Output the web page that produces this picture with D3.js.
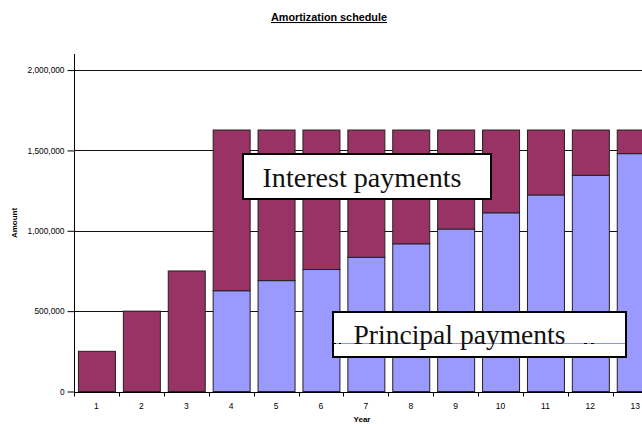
<!DOCTYPE html>
<html><head><meta charset="utf-8">
<script src="https://cdnjs.cloudflare.com/ajax/libs/d3/7.8.5/d3.min.js"></script>
<style>
html,body{margin:0;padding:0;background:#fff;overflow:hidden}
svg{display:block}
</style></head>
<body>
<script>
const years = [1,2,3,4,5,6,7,8,9,10,11,12,13];
const principal = [0,0,0,627000,690000,759000,835000,919000,1011000,1112000,1223000,1345000,1480000];
const interest = [250000,500000,750000,1000000,937000,868000,792000,708000,616000,515000,404000,282000,147000];
const yTicks = [0,500000,1000000,1500000,2000000];
const title = "Amortization schedule";
const xTitle = "Year";
const yTitle = "Amount";
const labelInterest = "Interest payments";
const labelPrincipal = "Principal payments";

const W = 642, H = 424;
const svg = d3.select("body").append("svg").attr("width", W).attr("height", H);

const x0 = 74, bandW = 44.9;
const x = d3.scaleBand().domain(years).range([x0, x0 + bandW * years.length])
  .paddingInner(0.176).paddingOuter(0.088);
const y = d3.scaleLinear().domain([0, 2100000]).range([391.5, 54]);

const sans = "'Liberation Sans', Arial, sans-serif";
const serif = "'Liberation Serif', 'Times New Roman', serif";

// gridlines
svg.append("g").selectAll("line").data(yTicks.filter(d => d > 0)).join("line")
  .attr("x1", x0).attr("x2", W)
  .attr("y1", d => Math.round(y(d)) + 0.5).attr("y2", d => Math.round(y(d)) + 0.5)
  .attr("stroke", "#111").attr("stroke-width", 1);

// stacked bars
const rows = years.map((yr, i) => ({year: yr, principal: principal[i], interest: interest[i]}));
const stack = d3.stack().keys(["principal", "interest"])(rows);
const colors = {principal: "#9999ff", interest: "#993366"};
stack.forEach(layer => {
  svg.append("g").selectAll("rect").data(layer.filter(d => d[1] - d[0] > 0)).join("rect")
    .attr("x", d => x(d.data.year) + 0.5)
    .attr("y", d => y(d[1]))
    .attr("width", x.bandwidth())
    .attr("height", d => y(d[0]) - y(d[1]))
    .attr("fill", colors[layer.key])
    .attr("stroke", "#222").attr("stroke-width", 1);
});

// y axis
const yAxis = svg.append("g").attr("transform", `translate(${x0 + 0.5},0)`)
  .call(d3.axisLeft(y).tickValues(yTicks).tickSize(7).tickSizeOuter(0)
    .tickFormat(d3.format(",")));
yAxis.select(".domain").remove();
yAxis.append("line").attr("x1", 0).attr("x2", 0).attr("y1", 54).attr("y2", 392).attr("stroke", "#000");
yAxis.selectAll(".tick line").attr("stroke", "#000");
yAxis.selectAll(".tick text").attr("font-family", sans).attr("font-size", 8.3).attr("fill", "#000").attr("x", -10);

// x axis
const xAxis = svg.append("g").attr("transform", `translate(0,${Math.round(y(0)) + 0.5})`);
xAxis.append("line").attr("x1", x0).attr("x2", W).attr("stroke", "#000");
const bounds = d3.range(years.length + 1).map(i => x0 + i * bandW);
xAxis.selectAll("line.t").data(bounds).join("line").attr("class", "t")
  .attr("x1", d => Math.round(d) + 0.5).attr("x2", d => Math.round(d) + 0.5)
  .attr("y1", 0).attr("y2", 4).attr("stroke", "#000");
xAxis.selectAll("text").data(years).join("text")
  .attr("x", d => x(d) + x.bandwidth() / 2).attr("y", 16)
  .attr("text-anchor", "middle").attr("font-family", sans).attr("font-size", 8.5).text(d => d);

// titles
svg.append("text").attr("x", 271).attr("y", 21)
  .attr("font-family", sans).attr("font-size", 10.5).attr("font-weight", "bold")
  .attr("textLength", 116).attr("lengthAdjust", "spacingAndGlyphs")
  .attr("text-decoration", "underline").text(title);
svg.append("text").attr("x", 362).attr("y", 422).attr("text-anchor", "middle")
  .attr("font-family", sans).attr("font-size", 8).attr("font-weight", "bold").text(xTitle);
svg.append("text").attr("transform", "translate(17,223) rotate(-90)").attr("text-anchor", "middle")
  .attr("font-family", sans).attr("font-size", 8).attr("font-weight", "bold").text(yTitle);

// annotation boxes
function box(x1, y1, x2, y2) {
  const g = svg.append("g");
  g.append("rect").attr("x", x1).attr("y", y1).attr("width", x2 - x1).attr("height", y2 - y1)
    .attr("fill", "#fff").attr("stroke", "#000").attr("stroke-width", 2);
  return g;
}
const gI = box(243, 154, 491, 199);
gI.append("text").attr("x", 262.5).attr("y", 187).attr("font-family", serif).attr("font-size", 26.5)
  .attr("textLength", 199).attr("lengthAdjust", "spacingAndGlyphs")
  .attr("fill", "#111").text(labelInterest);
const gP = box(333, 312, 626, 357);
gP.append("line").attr("x1", 334).attr("x2", 625).attr("y1", 343.5).attr("y2", 343.5)
  .attr("stroke", "#9090ee").attr("stroke-width", 1);
gP.append("line").attr("x1", 334).attr("x2", 625).attr("y1", 343.5).attr("y2", 343.5)
  .attr("stroke", "#000").attr("stroke-width", 1).attr("stroke-dasharray", "2 3 2 210 3 30 3 4 3 40");
gP.append("text").attr("x", 353.5).attr("y", 343.5).attr("font-family", serif).attr("font-size", 26.5)
  .attr("textLength", 212).attr("lengthAdjust", "spacingAndGlyphs")
  .attr("fill", "#111").text(labelPrincipal);
</script>
</body></html>
